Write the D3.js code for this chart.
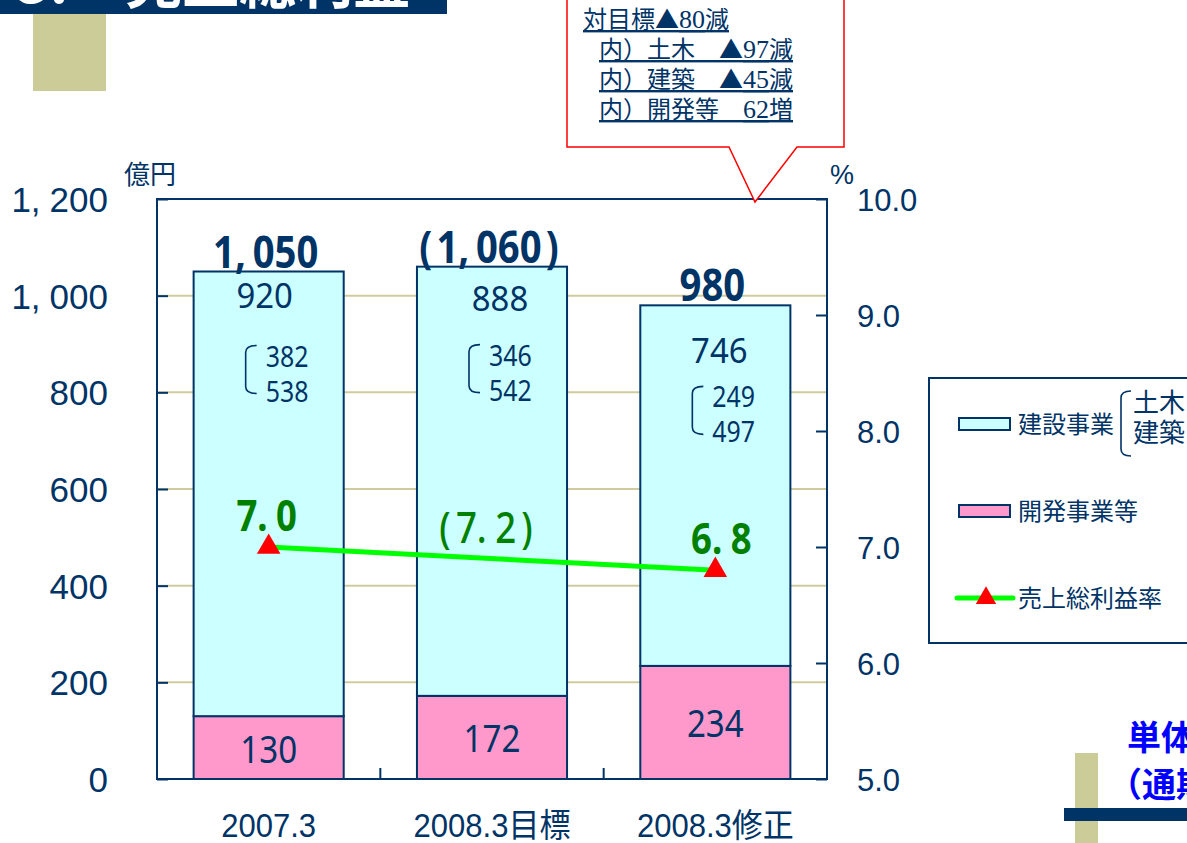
<!DOCTYPE html>
<html>
<head>
<meta charset="utf-8">
<script src="https://cdn.jsdelivr.net/npm/d3@7"></script>
<style>
  body { margin: 0; background: #fff; }
  svg { display: block; }
</style>
</head>
<body>
<div id="chart"></div>
<script>
// ---- data ----
const categories = ["2007.3", "2008.3目標", "2008.3修正"];
const devValues = [130, 172, 234];      // 開発事業等
const conValues = [920, 888, 746];      // 建設事業
const civilValues = [382, 346, 249];    // 内 土木
const archValues = [538, 542, 497];     // 内 建築
const rateValues = [7.0, 7.2, 6.8];     // 売上総利益率 (%)
const isTarget = [false, true, false];  // target column shown in parentheses
const leftTicks = [0, 200, 400, 600, 800, 1000, 1200];
const rightTicks = [5.0, 6.0, 7.0, 8.0, 9.0, 10.0];
const calloutLines = ["対目標▲80減", "内）土木　▲97減", "内）建築　▲45減", "内）開発等　62増"];

// label placement (hand placed in the original slide)
const conLabelDy = [36, 44, 58];
const subLabelDy = [95, 99, 102];

const NAVY = "#003366";
const NUM_FONT = "'Noto Sans', 'Liberation Sans', sans-serif";
const JP_FONT = "'Noto Sans CJK JP', 'Noto Sans', sans-serif";
const AX_FONT = "'Liberation Sans', 'Noto Sans CJK JP', sans-serif";

const svg = d3.select("#chart").append("svg")
    .attr("width", 1187)
    .attr("height", 843);

// scales
const x = d3.scaleBand().domain(categories).range([157, 827])
    .paddingInner(0.328).paddingOuter(0.164);
const yL = d3.scaleLinear().domain([0, 1200]).range([779, 199]);
const yR = d3.scaleLinear().domain([5, 10]).range([779, 199]);
const bw = x.bandwidth();
const cx = c => x(c) + bw / 2;

// put some air after commas, dots and round brackets like the slide font does
function spaced(t, str, gap) {
    t.text(null);
    let pending = 0;
    str.split("").forEach(ch => {
        let dx = pending;
        if (ch === ")") dx += gap * 0.6;
        t.append("tspan").attr("dx", dx).text(ch);
        pending = (ch === "," || ch === ".") ? gap : (ch === "(" ? gap * 0.6 : 0);
    });
}

function addText(parent, px, py, str, o) {
    const t = parent.append("text")
        .attr("transform", `translate(${px},${py}) scale(${o.sx || 1},1)`)
        .attr("text-anchor", o.anchor || "middle")
        .attr("font-family", o.family || NUM_FONT)
        .attr("font-size", o.size)
        .attr("font-weight", o.weight || "normal")
        .attr("fill", o.fill || NAVY);
    if (o.gap) spaced(t, str, o.gap); else t.text(str);
    return t;
}

// ---- slide decorations ----
svg.append("rect").attr("x", 0).attr("y", 0).attr("width", 447).attr("height", 14).attr("fill", NAVY);
svg.append("text").attr("x", 16).attr("y", 3).attr("fill", "#fff")
    .attr("font-family", JP_FONT).attr("font-size", 57).attr("font-weight", "bold")
    .text("3.　売上総利益");
svg.append("rect").attr("x", 33).attr("y", 14).attr("width", 73).attr("height", 77).attr("fill", "#cccc99");

svg.append("rect").attr("x", 1075).attr("y", 753).attr("width", 23).attr("height", 90).attr("fill", "#cccc99");
svg.append("rect").attr("x", 1064).attr("y", 808).attr("width", 123).attr("height", 13).attr("fill", NAVY);
svg.append("text").attr("x", 1127).attr("y", 750).attr("fill", "#0000ff")
    .attr("font-family", JP_FONT).attr("font-size", 34).attr("font-weight", "bold").text("単体決算");
svg.append("text").attr("x", 1108).attr("y", 797).attr("fill", "#0000ff")
    .attr("font-family", JP_FONT).attr("font-size", 34).attr("font-weight", "bold").text("（通期）");

// ---- grid ----
svg.append("g").selectAll("line")
    .data(leftTicks.filter(t => t > 0 && t < 1200))
    .join("line")
    .attr("x1", 157).attr("x2", 827)
    .attr("y1", d => yL(d)).attr("y2", d => yL(d))
    .attr("stroke", "#cfcb9d").attr("stroke-width", 2);

// ---- stacked bars ----
const rows = categories.map((c, i) => ({ cat: c, dev: devValues[i], con: conValues[i] }));
const series = d3.stack().keys(["dev", "con"])(rows);
const fill = { dev: "#ff99cc", con: "#ccffff" };

svg.append("g").selectAll("g")
    .data(series)
    .join("g")
    .attr("fill", d => fill[d.key])
    .selectAll("rect")
    .data(d => d)
    .join("rect")
    .attr("x", d => x(d.data.cat))
    .attr("y", d => yL(d[1]))
    .attr("width", bw)
    .attr("height", d => yL(d[0]) - yL(d[1]))
    .attr("stroke", NAVY)
    .attr("stroke-width", 2);

// plot frame
svg.append("rect").attr("x", 157).attr("y", 199).attr("width", 670).attr("height", 580)
    .attr("fill", "none").attr("stroke", NAVY).attr("stroke-width", 2);

// ---- axes ----
const gL = svg.append("g").attr("transform", "translate(157,0)")
    .call(d3.axisLeft(yL).tickValues(leftTicks).tickSizeInner(-11).tickSizeOuter(0)
        .tickPadding(49).tickFormat(d3.format(",")));
gL.select(".domain").remove();
gL.selectAll(".tick line").attr("stroke", NAVY).attr("stroke-width", 2);
gL.selectAll(".tick text")
    .attr("font-family", AX_FONT).attr("font-size", 35).attr("fill", NAVY).attr("dy", "0.36em")
    .each(function (d) { spaced(d3.select(this), d3.format(",")(d), 9); });

const gR = svg.append("g").attr("transform", "translate(827,0)")
    .call(d3.axisRight(yR).tickValues(rightTicks).tickSizeInner(-11).tickSizeOuter(0)
        .tickPadding(30).tickFormat(d3.format(".1f")));
gR.select(".domain").remove();
gR.selectAll(".tick line").attr("stroke", NAVY).attr("stroke-width", 2);
gR.selectAll(".tick text")
    .attr("font-family", AX_FONT).attr("font-size", 31).attr("fill", NAVY).attr("dy", "0.36em");

// x axis separators and labels
const seps = categories.slice(1).map((c, i) => (x(categories[i]) + bw + x(c)) / 2);
svg.append("g").selectAll("line").data(seps).join("line")
    .attr("x1", d => d).attr("x2", d => d).attr("y1", 779).attr("y2", 768)
    .attr("stroke", NAVY).attr("stroke-width", 2);
categories.forEach(c => addText(svg, cx(c), 837, c, { size: 33, sx: 0.94, family: AX_FONT }));

// unit labels
svg.append("text").attr("x", 124).attr("y", 184).attr("font-family", JP_FONT)
    .attr("font-size", 26).attr("fill", NAVY).text("億円");
svg.append("text").attr("x", 830).attr("y", 184).attr("font-family", AX_FONT)
    .attr("font-size", 27).attr("fill", NAVY).text("%");

// ---- value labels ----
const labels = svg.append("g");
categories.forEach((c, i) => {
    const total = devValues[i] + conValues[i];
    const top = yL(total);
    const tStr = d3.format(",")(total);
    addText(labels, cx(c) - 3, top - 4, isTarget[i] ? `(${tStr})` : tStr,
        { size: 45, sx: 0.85, weight: "bold", gap: 8 });

    addText(labels, cx(c) + (i === 1 ? 8 : i === 2 ? 4 : -4), top + conLabelDy[i],
        String(conValues[i]), { size: 35, sx: 0.94 });

    const s1 = top + subLabelDy[i], s2 = s1 + 35;
    addText(labels, cx(c) - 3, s1, String(civilValues[i]), { size: 29, sx: 0.86, anchor: "start" });
    addText(labels, cx(c) - 3, s2, String(archValues[i]), { size: 29, sx: 0.86, anchor: "start" });
    const bl = cx(c) - 23, br = cx(c) - 12, bt = s1 - 21, bb = s2 - 8;
    labels.append("path")
        .attr("d", `M${br},${bt} Q${bl},${bt} ${bl},${bt + 7} L${bl},${bb - 7} Q${bl},${bb} ${br},${bb}`)
        .attr("fill", "none").attr("stroke", NAVY).attr("stroke-width", 1.6);

    addText(labels, cx(c), (yL(0) + yL(devValues[i])) / 2 + 15, String(devValues[i]),
        { size: 39, sx: 0.85 });
});

// ---- rate line ----
const ratePts = categories.map((c, i) => ({ cat: c, v: rateValues[i], t: isTarget[i] }))
    .filter(d => !d.t);
const line = d3.line().x(d => cx(d.cat)).y(d => yR(d.v));
svg.append("path").datum(ratePts).attr("d", line)
    .attr("fill", "none").attr("stroke", "#00ff00").attr("stroke-width", 5);
svg.append("g").selectAll("path").data(ratePts).join("path")
    .attr("transform", d => `translate(${cx(d.cat)},${yR(d.v)})`)
    .attr("d", d3.symbol(d3.symbolTriangle, 240))
    .attr("fill", "#ff0000");

const lineY = d3.scaleLinear().domain(ratePts.map(d => cx(d.cat))).range(ratePts.map(d => yR(d.v)));
categories.forEach((c, i) => {
    const s = d3.format(".1f")(rateValues[i]);
    addText(labels, cx(c) + (i === 1 ? -6 : i === 2 ? 6 : -2), lineY(cx(c)) - 16,
        isTarget[i] ? `(${s})` : s,
        { size: 43, sx: 0.85, weight: isTarget[i] ? 500 : "bold", fill: "#008000", gap: 10 });
});

// ---- callout ----
svg.append("path")
    .attr("d", "M567,-2 L567,147 L729,147 L755,202 L797,147 L844,147 L844,-2")
    .attr("fill", "#fff").attr("stroke", "#ff0000").attr("stroke-width", 1.5);
calloutLines.forEach((t, i) => {
    const tx = svg.append("text")
        .attr("x", i === 0 ? 583 : 599).attr("y", 28 + i * 30)
        .attr("font-family", JP_FONT)
        .attr("font-size", 24).attr("fill", NAVY)
        .attr("text-decoration", "underline")
        .style("white-space", "pre");
    // digits in a serif face, the rest in gothic
    t.split(/(\d+)/).filter(s => s.length).forEach(seg => {
        const sp = tx.append("tspan").text(seg);
        if (/^\d+$/.test(seg)) sp.attr("font-family", "'Liberation Serif', serif").attr("font-size", 26);
    });
});

// ---- legend ----
const lg = svg.append("g");
lg.append("rect").attr("x", 929).attr("y", 378).attr("width", 300).attr("height", 265)
    .attr("fill", "#fff").attr("stroke", NAVY).attr("stroke-width", 2);
const legItems = [
    { name: "建設事業", key: "con", y: 424 },
    { name: "開発事業等", key: "dev", y: 511 }
];
legItems.forEach(d => {
    lg.append("rect").attr("x", 959).attr("y", d.y - 6).attr("width", 51).attr("height", 12)
        .attr("fill", fill[d.key]).attr("stroke", NAVY).attr("stroke-width", 2);
    lg.append("text").attr("x", 1018).attr("y", d.y + 8.5).attr("font-family", JP_FONT)
        .attr("font-size", 24).attr("fill", NAVY).text(d.name);
});
lg.append("path").attr("d", "M1131,391 Q1121,391 1121,398 L1121,449 Q1121,456 1131,456")
    .attr("fill", "none").attr("stroke", NAVY).attr("stroke-width", 1.6);
lg.append("text").attr("x", 1133).attr("y", 412).attr("font-family", JP_FONT)
    .attr("font-size", 26).attr("fill", NAVY).text("土木");
lg.append("text").attr("x", 1133).attr("y", 442).attr("font-family", JP_FONT)
    .attr("font-size", 26).attr("fill", NAVY).text("建築");
lg.append("line").attr("x1", 957).attr("x2", 1013).attr("y1", 598).attr("y2", 598)
    .attr("stroke", "#00ff00").attr("stroke-width", 5).attr("stroke-linecap", "round");
lg.append("path").attr("transform", "translate(986,598)")
    .attr("d", d3.symbol(d3.symbolTriangle, 180)).attr("fill", "#ff0000");
lg.append("text").attr("x", 1018).attr("y", 606.5).attr("font-family", JP_FONT)
    .attr("font-size", 24).attr("fill", NAVY).text("売上総利益率");
</script>
</body>
</html>
